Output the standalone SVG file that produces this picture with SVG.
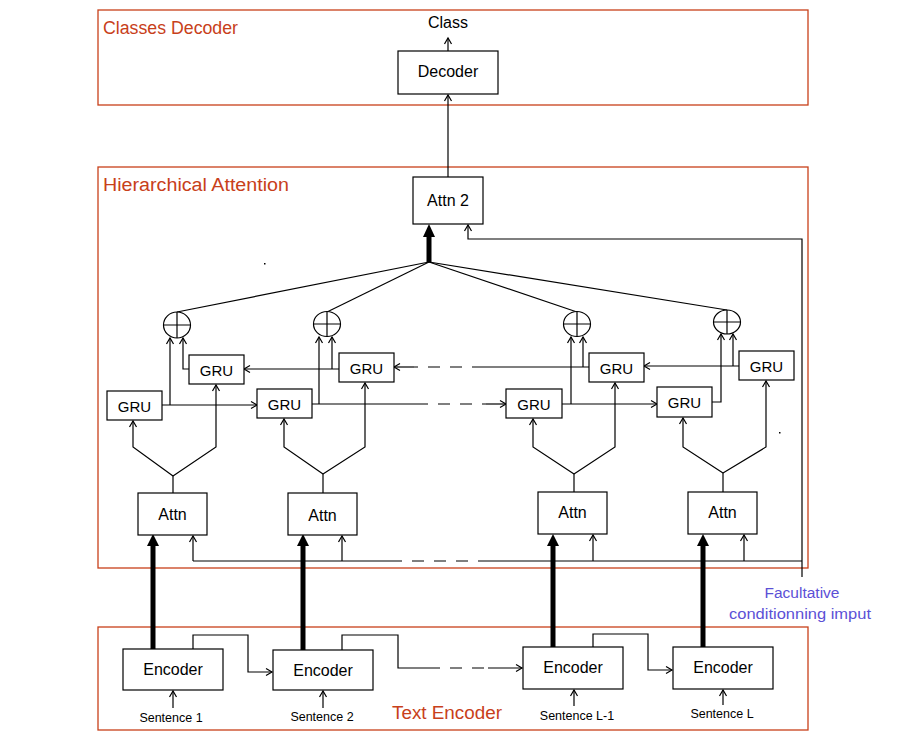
<svg xmlns="http://www.w3.org/2000/svg" width="911" height="753" viewBox="0 0 911 753">
  <style>
    .frame { fill: none; stroke: #c8401a; stroke-width: 1.3; }
    .title { font-family: "Liberation Sans", Arial, sans-serif; font-size: 18px; fill: #c8401a; }
    .box { fill: #fff; stroke: #000; stroke-width: 1.2; }
    .lbl { font-family: "Liberation Sans", Arial, sans-serif; font-size: 16px; fill: #000; text-anchor: middle; dominant-baseline: central; }
    .gru { font-size: 15px; }
    .small { font-family: "Liberation Sans", Arial, sans-serif; font-size: 12.5px; fill: #000; text-anchor: middle; }
    .note { font-family: "Liberation Sans", Arial, sans-serif; font-size: 15.5px; fill: #5b50d6; text-anchor: middle; }
    .wire { fill: none; stroke: #000; stroke-width: 1.2; }
    .arr { marker-end: url(#open); }
    .dash { stroke-dasharray: 12 10; }
    .thick { fill: none; stroke: #000; stroke-width: 5; }
  </style>
  <defs>
    <marker id="open" viewBox="-8 -5 10 10" markerWidth="10" markerHeight="10" refX="0" refY="0" orient="auto" markerUnits="userSpaceOnUse">
      <path d="M-6,-3.5 L0,0 L-6,3.5" fill="none" stroke="#000" stroke-width="1.2"/>
    </marker>
  </defs>

  <rect width="911" height="753" fill="#fff"/>

  <!-- section frames -->
  <g id="classes-decoder">
    <rect class="frame" x="98" y="10" width="710" height="95"/>
    <text class="title" x="103" y="34" textLength="135" lengthAdjust="spacingAndGlyphs">Classes Decoder</text>
  </g>
  <g id="hierarchical-attention">
    <rect class="frame" x="98" y="167" width="710" height="401"/>
    <text class="title" x="103" y="191" textLength="186" lengthAdjust="spacingAndGlyphs">Hierarchical Attention</text>
  </g>
  <g id="text-encoder">
    <rect class="frame" x="98" y="627" width="710" height="103"/>
    <text class="title" x="392" y="719" textLength="110" lengthAdjust="spacingAndGlyphs">Text Encoder</text>
  </g>

  <!-- connectors -->
  <g id="connectors">
    <!-- decoder / output -->
    <path class="wire arr" d="M448,177 V95"/>
    <path class="wire arr" d="M448,51 V38"/>

    <!-- attention hub to the sum nodes -->
    <path class="wire" d="M429,262 L177,312"/>
    <path class="wire" d="M429,262 L327,312"/>
    <path class="wire" d="M429,262 L577,312"/>
    <path class="wire" d="M429,262 L727,310"/>
    <path class="thick" d="M429,262 V236"/>
    <polygon points="429,224 423,237 435,237" fill="#000"/>

    <!-- conditioning input -->
    <path class="wire arr" d="M802,577 V239 H468 V225"/>
    <path class="wire" d="M193,561 H390"/>
    <path class="wire dash" d="M390,561 H490"/>
    <path class="wire" d="M490,561 H802"/>
    <path class="wire arr" d="M193,561 V536"/>
    <path class="wire arr" d="M342,561 V536"/>
    <path class="wire arr" d="M593,561 V535"/>
    <path class="wire arr" d="M744,561 V535"/>

    <!-- forward GRU chain -->
    <path class="wire arr" d="M162,405 H257"/>
    <path class="wire arr" d="M170,405 V338"/>
    <path class="wire" d="M312,404 H416"/>
    <path class="wire dash" d="M416,404 H486"/>
    <path class="wire arr" d="M486,404 H506"/>
    <path class="wire arr" d="M319,404 V337"/>
    <path class="wire arr" d="M562,404 H657"/>
    <path class="wire arr" d="M571,404 V337"/>
    <path class="wire arr" d="M712,402 H721 V334"/>

    <!-- backward GRU chain -->
    <path class="wire arr" d="M739,366 H644"/>
    <path class="wire arr" d="M733,366 V334"/>
    <path class="wire" d="M589,367 H484"/>
    <path class="wire dash" d="M484,367 H414"/>
    <path class="wire arr" d="M414,367 H394"/>
    <path class="wire arr" d="M583,367 V337"/>
    <path class="wire arr" d="M339,369 H244"/>
    <path class="wire arr" d="M332,369 V337"/>
    <path class="wire arr" d="M189,369 H183 V338"/>

    <!-- sentence attention to GRUs -->
    <path class="wire" d="M173,493 V476"/>
    <path class="wire arr" d="M173,476 L133,447 V421"/>
    <path class="wire arr" d="M173,476 L216,447 V385"/>
    <path class="wire" d="M323,493 V474"/>
    <path class="wire arr" d="M323,474 L284,447 V419"/>
    <path class="wire arr" d="M323,474 L365,447 V383"/>
    <path class="wire" d="M574,492 V474"/>
    <path class="wire arr" d="M574,474 L533,447 V419"/>
    <path class="wire arr" d="M574,474 L615,447 V383"/>
    <path class="wire" d="M723,492 V473"/>
    <path class="wire arr" d="M723,473 L683,447 V418"/>
    <path class="wire arr" d="M723,473 L766,447 V381"/>

    <!-- encoders to attention -->
    <path class="thick" d="M153,649 V545"/>
    <polygon points="153,534 147,546 159,546" fill="#000"/>
    <path class="thick" d="M303,650 V545"/>
    <polygon points="303,534 297,546 309,546" fill="#000"/>
    <path class="thick" d="M553,647 V545"/>
    <polygon points="553,534 547,546 559,546" fill="#000"/>
    <path class="thick" d="M703,647 V545"/>
    <polygon points="703,534 697,546 709,546" fill="#000"/>

    <!-- encoder chain -->
    <path class="wire arr" d="M193,649 V635 H248 V672 H272"/>
    <path class="wire" d="M342,650 V635 H398 V668 H428"/>
    <path class="wire dash" d="M428,668 H488"/>
    <path class="wire arr" d="M488,668 H522"/>
    <path class="wire arr" d="M593,647 V634 H648 V670 H672"/>

    <!-- sentence inputs -->
    <path class="wire arr" d="M173,708 V691"/>
    <path class="wire arr" d="M323,708 V691"/>
    <path class="wire arr" d="M574,706 V690"/>
    <path class="wire arr" d="M723,705 V690"/>
  </g>

  <!-- nodes -->
  <g id="class-output"><text class="lbl" x="448" y="22" font-size="18">Class</text></g>
  <g id="decoder"><rect class="box" x="398" y="51" width="100" height="43"/><text class="lbl" x="448" y="71">Decoder</text></g>
  <g id="attn2"><rect class="box" x="413" y="177" width="70" height="47"/><text class="lbl" x="448" y="200">Attn 2</text></g>

  <g id="sum1"><ellipse class="box" cx="177" cy="325" rx="13.5" ry="13"/><path class="wire" d="M177,312 V338 M163.5,325 H190.5"/></g>
  <g id="sum2"><ellipse class="box" cx="327" cy="324" rx="13.5" ry="12.5"/><path class="wire" d="M327,311.5 V336.5 M313.5,324 H340.5"/></g>
  <g id="sum3"><ellipse class="box" cx="577" cy="324" rx="13.5" ry="12.5"/><path class="wire" d="M577,311.5 V336.5 M563.5,324 H590.5"/></g>
  <g id="sum4"><ellipse class="box" cx="727" cy="322" rx="13.5" ry="12"/><path class="wire" d="M727,310 V334 M713.5,322 H740.5"/></g>

  <g id="gru-b1"><rect class="box" x="189" y="355" width="55" height="29"/><text class="lbl gru" x="216.5" y="370">GRU</text></g>
  <g id="gru-b2"><rect class="box" x="339" y="353" width="55" height="29"/><text class="lbl gru" x="366.5" y="368">GRU</text></g>
  <g id="gru-b3"><rect class="box" x="589" y="353" width="55" height="29"/><text class="lbl gru" x="616.5" y="368">GRU</text></g>
  <g id="gru-b4"><rect class="box" x="739" y="351" width="55" height="29"/><text class="lbl gru" x="766.5" y="366">GRU</text></g>

  <g id="gru-f1"><rect class="box" x="107" y="391" width="55" height="29"/><text class="lbl gru" x="134.5" y="406">GRU</text></g>
  <g id="gru-f2"><rect class="box" x="257" y="389" width="55" height="29"/><text class="lbl gru" x="284.5" y="404">GRU</text></g>
  <g id="gru-f3"><rect class="box" x="506" y="389" width="56" height="29"/><text class="lbl gru" x="534" y="404">GRU</text></g>
  <g id="gru-f4"><rect class="box" x="657" y="387" width="55" height="30"/><text class="lbl gru" x="684.5" y="402">GRU</text></g>

  <g id="attn-1"><rect class="box" x="138" y="493" width="69" height="42"/><text class="lbl" x="172.5" y="514">Attn</text></g>
  <g id="attn-2"><rect class="box" x="288" y="493" width="69" height="42"/><text class="lbl" x="322.5" y="515">Attn</text></g>
  <g id="attn-3"><rect class="box" x="538" y="492" width="69" height="42"/><text class="lbl" x="572.5" y="512">Attn</text></g>
  <g id="attn-4"><rect class="box" x="688" y="492" width="69" height="42"/><text class="lbl" x="722.5" y="512">Attn</text></g>

  <g id="encoder-1"><rect class="box" x="123" y="649" width="100" height="41"/><text class="lbl" x="173" y="669">Encoder</text></g>
  <g id="encoder-2"><rect class="box" x="273" y="650" width="100" height="40"/><text class="lbl" x="323" y="670">Encoder</text></g>
  <g id="encoder-3"><rect class="box" x="523" y="647" width="100" height="42"/><text class="lbl" x="573" y="667">Encoder</text></g>
  <g id="encoder-4"><rect class="box" x="673" y="647" width="100" height="42"/><text class="lbl" x="723" y="667">Encoder</text></g>

  <g id="sentences">
    <text class="small" x="171" y="722">Sentence 1</text>
    <text class="small" x="322" y="721">Sentence 2</text>
    <text class="small" x="577" y="720">Sentence L-1</text>
    <text class="small" x="722" y="718">Sentence L</text>
  </g>

  <g id="conditioning-note">
    <text class="note" x="802" y="598" textLength="75" lengthAdjust="spacingAndGlyphs">Facultative</text>
    <text class="note" x="800" y="619" textLength="142" lengthAdjust="spacingAndGlyphs">conditionning imput</text>
  </g>

  <!-- stray specks -->
  <rect x="264" y="263" width="1.5" height="1.5" fill="#000"/>
  <rect x="779" y="432" width="1.5" height="1.5" fill="#000"/>
</svg>
